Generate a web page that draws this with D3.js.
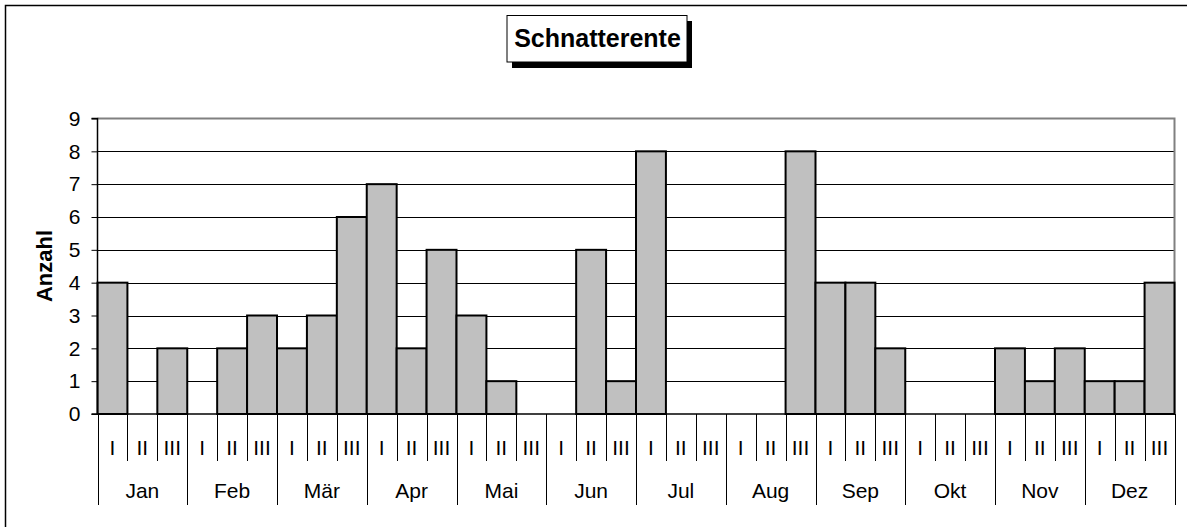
<!DOCTYPE html>
<html><head><meta charset="utf-8">
<script src="https://cdn.jsdelivr.net/npm/d3@7"></script>
<style>body{margin:0;background:#fff}svg{display:block;font-family:Arial,"Liberation Sans",sans-serif}</style>
</head><body><svg id="c" width="1187" height="527"></svg>
<script>
const title = "Schnatterente";
const yTitle = "Anzahl";
const months = ["Jan","Feb","Mär","Apr","Mai","Jun","Jul","Aug","Sep","Okt","Nov","Dez"];
const decades = ["I","II","III"];
const values = [4,0,2, 0,2,3, 2,3,6, 7,2,5, 3,1,0, 0,5,1, 8,0,0, 0,0,8, 4,4,2, 0,0,0, 2,1,2, 1,1,4];
const yTicks = [0,1,2,3,4,5,6,7,8,9];

const svg = d3.select("#c");
const L = 97.5, R = 1174.5, T = 118.5, B = 414;
const cats = d3.range(values.length);
const x = d3.scaleBand().domain(cats).range([L, R]).padding(0);
const y = d3.scaleLinear().domain([0, 9]).range([B, T]);
const FS = 21;

// outer border
svg.append("rect").attr("x",5.5).attr("y",5.5).attr("width",1300).attr("height",600)
  .attr("fill","none").attr("stroke","#000").attr("stroke-width",1.5);

// gridlines
svg.append("g").selectAll("line").data(yTicks.filter(d=>d>0 && d<9)).join("line")
  .attr("x1",L).attr("x2",R).attr("y1",d=>Math.round(y(d))+0.5).attr("y2",d=>Math.round(y(d))+0.5)
  .attr("stroke","#000").attr("stroke-width",1);

// plot border top/right gray
svg.append("path").attr("d",`M${L},${T}H${R}V${B}`).attr("fill","none").attr("stroke","#808080").attr("stroke-width",2);

// bars
svg.append("g").selectAll("rect").data(values.map((v,i)=>({v,i})).filter(d=>d.v>0)).join("rect")
  .attr("x",d=>x(d.i)).attr("width",x.bandwidth())
  .attr("y",d=>y(d.v)).attr("height",d=>y(0)-y(d.v))
  .attr("fill","#c0c0c0").attr("stroke","#000").attr("stroke-width",2);

// y axis
const ya = d3.axisLeft(y).tickValues(yTicks).tickSize(6).tickPadding(11);
const yg = svg.append("g").attr("transform",`translate(${L},0)`).call(ya);
yg.select(".domain").attr("stroke","#000").attr("stroke-width",1.5).attr("d",`M-6,${T}H0V${B}H-6`);
yg.selectAll(".tick line").attr("stroke","#000");
yg.selectAll(".tick text").attr("font-size",FS).attr("fill","#000").attr("font-family","Arial,'Liberation Sans',sans-serif");

// x baseline
svg.append("line").attr("x1",L).attr("x2",R).attr("y1",B).attr("y2",B).attr("stroke","#000").attr("stroke-width",1.5);

// minor ticks & decade labels
const xa = svg.append("g");
cats.forEach(i=>{
  const xi = x(i);
  const isMajor = i % 3 === 0;
  xa.append("line").attr("x1",Math.round(xi)+0.5).attr("x2",Math.round(xi)+0.5).attr("y1",B).attr("y2",isMajor?505:461)
    .attr("stroke","#000").attr("stroke-width",1);
  xa.append("text").attr("x",xi+x.bandwidth()/2).attr("y",455).attr("text-anchor","middle")
    .attr("font-size",FS).text(decades[i%3]);
});
xa.append("line").attr("x1",Math.round(R)+0.5).attr("x2",Math.round(R)+0.5).attr("y1",B).attr("y2",505).attr("stroke","#000");
months.forEach((m,k)=>{
  const cx = (x(k*3) + x(k*3+2) + x.bandwidth())/2;
  xa.append("text").attr("x",cx).attr("y",498).attr("text-anchor","middle").attr("font-size",FS).text(m);
});

// y title
svg.append("text").attr("transform","translate(52,266) rotate(-90)").attr("text-anchor","middle")
  .attr("font-size",22).attr("font-weight","bold").text(yTitle);

// title box with shadow
svg.append("rect").attr("x",512).attr("y",21).attr("width",180).attr("height",47).attr("fill","#000");
svg.append("rect").attr("x",507).attr("y",15.5).attr("width",180).attr("height",46.5).attr("fill","#fff").attr("stroke","#000").attr("stroke-width",1);
svg.append("text").attr("x",597.5).attr("y",47).attr("text-anchor","middle").attr("font-size",25).attr("font-weight","bold").text(title);
</script></body></html>
